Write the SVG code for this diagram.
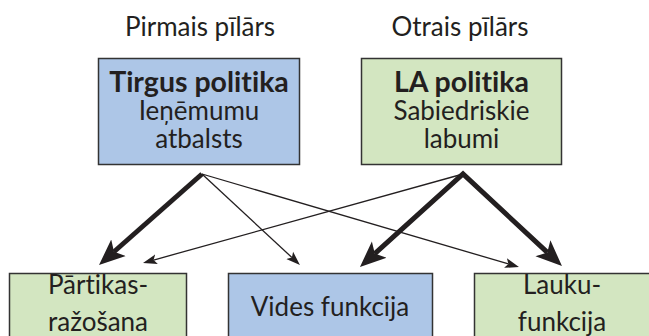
<svg xmlns="http://www.w3.org/2000/svg" width="649" height="336" viewBox="0 0 649 336">
<style>
text{font-family:Lato,"Open Sans",sans-serif;font-size:26px;fill:#231f20;text-anchor:middle;font-variant-ligatures:none;font-feature-settings:"liga" 0}
.b{font-weight:bold;font-size:28.5px}
.blue{fill:#adc6e7;stroke:#333;stroke-width:1.5}
.green{fill:#d3e6c1;stroke:#333;stroke-width:1.5}
.thick{fill:none;stroke:#231f20;stroke-width:5;stroke-linejoin:miter;stroke-miterlimit:10}
.thin{fill:none;stroke:#231f20;stroke-width:1.3}
</style>
<defs>
<marker id="hk" markerUnits="userSpaceOnUse" markerWidth="28" markerHeight="24" viewBox="0 0 28 24" refX="6" refY="12" orient="auto-start-reverse"><path d="M0,1 L26,12 L0,23 L6,12 Z" fill="#231f20"/></marker>
<marker id="hn" markerUnits="userSpaceOnUse" markerWidth="16" markerHeight="12" viewBox="0 0 16 12" refX="3" refY="6" orient="auto"><path d="M0,1 L14,6 L0,11 L3,6 Z" fill="#231f20"/></marker>
</defs>
<rect width="649" height="336" fill="#fff"/>
<text x="200" y="36">Pirmais pīlārs</text>
<text x="460" y="36">Otrais pīlārs</text>
<g id="tirgus">
<rect class="blue" x="98.5" y="58.5" width="201" height="106"/>
<text class="b" x="199" y="92">Tirgus politika</text>
<text x="199" y="120">Ieņēmumu</text>
<text x="199" y="148">atbalsts</text>
</g>
<g id="la">
<rect class="green" x="361.5" y="58.5" width="200" height="106"/>
<text class="b" x="461.5" y="92">LA politika</text>
<text x="461.5" y="120">Sabiedriskie</text>
<text x="461.5" y="148">labumi</text>
</g>
<g id="partika">
<rect class="green" x="9.5" y="273.5" width="177" height="80"/>
<text x="98" y="294">Pārtikas-</text>
<text x="98" y="331">ražošana</text>
</g>
<g id="vides">
<rect class="blue" x="228.5" y="273.5" width="204" height="80"/>
<text x="330" y="316">Vides funkcija</text>
</g>
<g id="lauku">
<rect class="green" x="474.5" y="273.5" width="180" height="80"/>
<text x="562" y="294">Lauku-</text>
<text x="562" y="331">funkcija</text>
</g>
<g id="connectors">
<path class="thick" d="M202,174 L114,251.75" marker-end="url(#hk)"/>
<path class="thin" d="M202,174 L291.9,257.5" marker-end="url(#hn)"/>
<path class="thin" d="M202,174 L508.4,263.9" marker-end="url(#hn)"/>
<path class="thin" d="M463,174 L153.6,260.05" marker-end="url(#hn)"/>
<path class="thick" d="M374.8,253.6 L463,174 L547.3,252.4" marker-start="url(#hk)" marker-end="url(#hk)"/>
</g>
</svg>
